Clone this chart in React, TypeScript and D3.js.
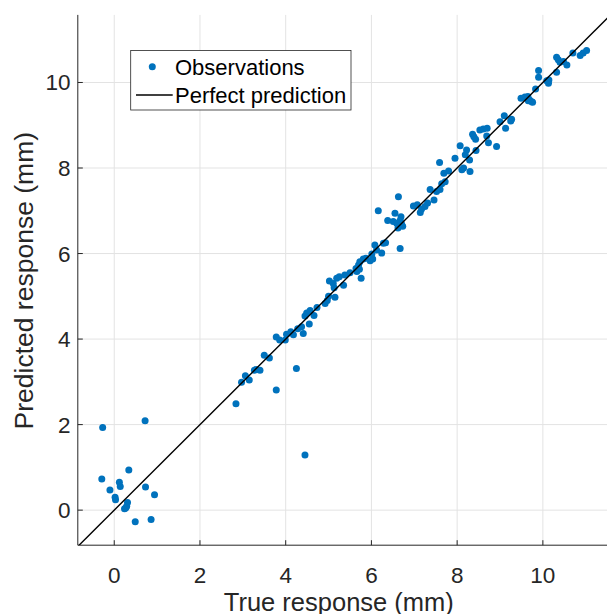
import React from "react";
import * as d3 from "d3";

const trueResp: number[] = [
  -0.27, 0.72, 0.34, -0.29, 0.12, 0.14, -0.10, 0.73, 0.94, 0.02, 0.03, 0.31, 0.29, 0.24, 0.27, 0.49, 0.86,
  4.25, 3.78, 2.84, 4.45,
  2.97, 3.06, 3.15, 3.31, 3.40, 3.27, 3.50, 3.62, 3.78, 3.86, 3.99, 4.02, 4.12, 4.18, 4.28, 4.37, 4.41,
  4.45, 4.49, 4.57, 4.55, 4.66, 4.73, 4.92, 4.97, 5.00, 5.15, 5.02, 5.11, 5.19, 5.25, 5.35, 5.13, 5.38,
  5.50, 5.66, 5.72, 5.76,
  5.64, 5.70, 5.73, 5.81, 5.87, 5.97, 6.03, 6.01, 6.08, 6.12, 6.24, 6.28, 6.33, 6.16, 6.38, 6.51, 6.55,
  6.67, 6.63, 6.67, 6.59, 6.69, 6.73, 6.62, 6.66, 6.70, 6.98, 7.07, 7.14, 7.17, 7.25, 7.31, 7.37, 7.46,
  7.52, 7.60, 7.64, 7.72,
  7.59, 7.69, 7.80, 7.95, 8.07, 8.11, 8.15, 8.19, 8.22, 8.29, 8.30, 8.36, 8.39, 8.43, 8.44, 8.53, 8.61,
  8.70, 8.69, 8.73, 8.92, 9.00, 9.10, 9.13, 9.27, 9.25, 9.49, 9.58, 9.65, 9.69, 9.74,
  9.83, 9.90, 9.90, 10.09, 10.13, 10.14, 10.32, 10.36, 10.40, 10.32, 10.48, 10.56, 10.70, 10.87, 10.94,
  11.02, 9.66, 9.76,
];

const predResp: number[] = [
  1.93, 2.09, 0.94, 0.73, 0.65, 0.55, 0.47, 0.54, 0.36, 0.30, 0.24, 0.18, 0.09, 0.03, 0.05, -0.27, -0.22,
  3.31, 2.81, 2.49, 1.29,
  2.99, 3.14, 3.04, 3.29, 3.27, 3.27, 3.62, 3.56, 4.05, 3.98, 3.98, 4.11, 4.17, 4.10, 4.24, 4.29, 4.13,
  4.54, 4.61, 4.67, 4.35, 4.55, 4.74, 4.83, 4.90, 5.00, 4.98, 5.36, 5.30, 5.42, 5.46, 5.26, 5.20, 5.50,
  5.55, 5.58, 5.63, 5.42,
  5.65, 5.73, 5.81, 5.87, 5.89, 5.83, 5.87, 5.99, 6.20, 6.08, 6.01, 6.24, 6.25, 7.00, 6.77, 6.75, 6.94,
  6.77, 7.33, 6.12, 6.71, 6.86, 6.64, 6.60, 6.66, 6.70, 7.11, 7.14, 6.96, 7.04, 7.10, 7.18, 7.50, 7.25,
  7.45, 7.50, 7.63, 7.68,
  8.13, 7.88, 7.93, 8.23, 8.52, 7.96, 8.00, 8.31, 8.42, 8.19, 7.92, 8.79, 8.73, 8.67, 8.41, 8.89, 8.91,
  8.93, 8.75, 8.59, 8.50, 9.08, 9.22, 8.93, 9.14, 9.10, 9.63, 9.66, 9.67, 9.59, 9.55,
  9.85, 10.12, 10.28, 10.04, 9.98, 10.06, 10.59, 10.53, 10.47, 10.24, 10.49, 10.41, 10.69, 10.63, 10.69,
  10.75, 9.57, 9.54,
];

const xTicks: number[] = [0, 2, 4, 6, 8, 10];
const yTicks: number[] = [0, 2, 4, 6, 8, 10];
const xLabel = "True response (mm)";
const yLabel = "Predicted response (mm)";
const legendLabels: string[] = ["Observations", "Perfect prediction"];

const W = 607;
const H = 614;
const FONT = "'Liberation Sans', Arial, Helvetica, sans-serif";
const BLUE = "#0072BD";
const AX = "#262626";

export default function App() {
  const left = 77.8;
  const right = 610.6;
  const top = 14.9;
  const bottom = 545.2;
  const x = d3.scaleLinear().domain([-0.85, 11.58]).range([left, right]);
  const y = d3.scaleLinear().domain([-0.82, 11.58]).range([bottom, top]);
  const pts = trueResp.map((t, i) => [t, predResp[i]] as [number, number]);
  const line = d3.line<number>().x((v) => x(v)).y((v) => y(v));
  const lineData = [-1, 12];

  return (
    <svg
      width={W}
      height={H}
      style={{ position: "absolute", left: 0, top: 0, background: "#fff" }}
      fontFamily={FONT}
    >
      <defs>
        <clipPath id="plotClip">
          <rect x={left} y={top} width={right - left} height={bottom - top} />
        </clipPath>
      </defs>
      <rect x={0} y={0} width={W} height={H} fill="#fff" />
      <g stroke="#e3e3e3" strokeWidth={1}>
        {xTicks.map((t) => (
          <line key={"gx" + t} x1={x(t)} x2={x(t)} y1={top} y2={bottom} />
        ))}
        {yTicks.map((t) => (
          <line key={"gy" + t} x1={left} x2={right} y1={y(t)} y2={y(t)} />
        ))}
      </g>
      <g stroke={AX} strokeWidth={1}>
        <line x1={left} x2={left} y1={top} y2={bottom} />
        <line x1={left} x2={right} y1={bottom} y2={bottom} />
        {xTicks.map((t) => (
          <line key={"tx" + t} x1={x(t)} x2={x(t)} y1={bottom} y2={bottom - 5} />
        ))}
        {yTicks.map((t) => (
          <line key={"ty" + t} x1={left} x2={left + 5} y1={y(t)} y2={y(t)} />
        ))}
      </g>
      <g fill={AX} fontSize={22.5}>
        {xTicks.map((t) => (
          <text key={"lx" + t} x={x(t)} y={582.5} textAnchor="middle">
            {t}
          </text>
        ))}
        {yTicks.map((t) => (
          <text key={"ly" + t} x={70.5} y={y(t) + 8} textAnchor="end">
            {t}
          </text>
        ))}
      </g>
      <text x={338.8} y={610.5} textAnchor="middle" fontSize={25.5} fill={AX}>
        {xLabel}
      </text>
      <text
        transform={`translate(32.5, 280.7) rotate(-90)`}
        textAnchor="middle"
        fontSize={26.5}
        fill={AX}
      >
        {yLabel}
      </text>
      <g clipPath="url(#plotClip)">
        {pts.map((p, i) => (
          <circle key={i} cx={x(p[0])} cy={y(p[1])} r={3.5} fill={BLUE} />
        ))}
        <path d={line(lineData) || ""} stroke="#000" strokeWidth={1.4} fill="none" />
      </g>
      <g>
        <rect x={130.7} y={50.5} width={220.3} height={59.5} fill="#fff" stroke="#262626" strokeWidth={0.8} />
        <circle cx={152.3} cy={66.7} r={3.5} fill={BLUE} />
        <line x1={136} x2={172.7} y1={95} y2={95} stroke="#000" strokeWidth={1.4} />
        <text x={175} y={75} fontSize={22} fill="#000">
          {legendLabels[0]}
        </text>
        <text x={175} y={102.7} fontSize={22} fill="#000">
          {legendLabels[1]}
        </text>
      </g>
    </svg>
  );
}
